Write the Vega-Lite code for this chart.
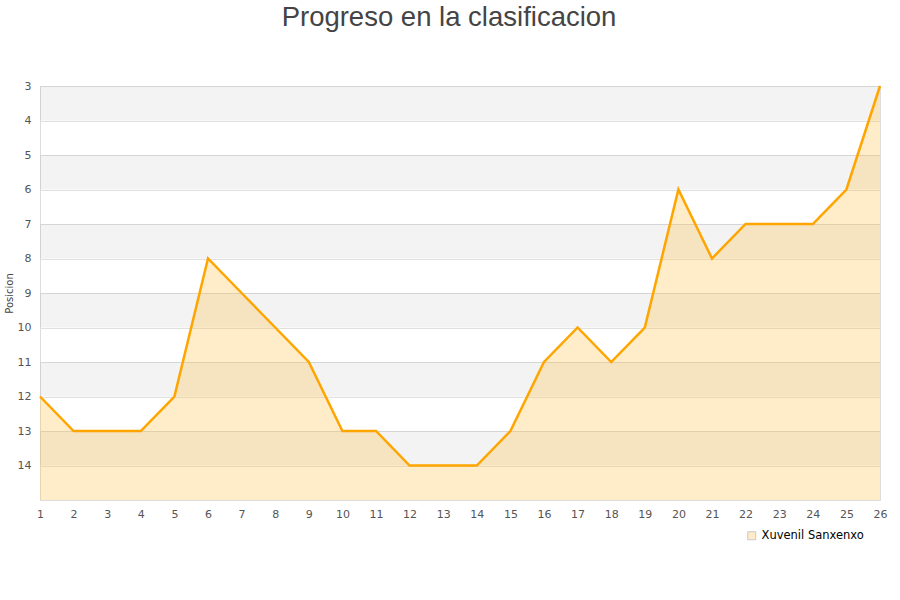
{
  "$schema": "https://vega.github.io/schema/vega-lite/v6.json",
  "autosize": "none",
  "width": 840,
  "height": 414,
  "padding": {"left": 40, "top": 86, "right": 20, "bottom": 100},
  "background": "white",
  "title": {
    "text": "Progreso en la clasificacion",
    "font": "Liberation Sans",
    "fontSize": 27.5,
    "fontWeight": "normal",
    "color": "#444444",
    "anchor": "middle",
    "offset": 56,
    "dy": 7,
    "dx": -11
  },
  "config": {
    "view": {"stroke": "#dddddd"},
    "axis": {
      "labelFont": "DejaVu Sans",
      "labelFontSize": 11,
      "labelColor": "#555555",
      "domain": false,
      "ticks": false,
      "labelOverlap": false,
      "labelFlush": false
    }
  },
  "datasets": {
    "bands": [
      {"b": 3, "e": 4},
      {"b": 5, "e": 6},
      {"b": 7, "e": 8},
      {"b": 9, "e": 10},
      {"b": 11, "e": 12},
      {"b": 13, "e": 14}
    ],
    "pos": [
      {"jornada": 1, "posicion": 12, "equipo": "Xuvenil Sanxenxo"},
      {"jornada": 2, "posicion": 13, "equipo": "Xuvenil Sanxenxo"},
      {"jornada": 3, "posicion": 13, "equipo": "Xuvenil Sanxenxo"},
      {"jornada": 4, "posicion": 13, "equipo": "Xuvenil Sanxenxo"},
      {"jornada": 5, "posicion": 12, "equipo": "Xuvenil Sanxenxo"},
      {"jornada": 6, "posicion": 8, "equipo": "Xuvenil Sanxenxo"},
      {"jornada": 7, "posicion": 9, "equipo": "Xuvenil Sanxenxo"},
      {"jornada": 8, "posicion": 10, "equipo": "Xuvenil Sanxenxo"},
      {"jornada": 9, "posicion": 11, "equipo": "Xuvenil Sanxenxo"},
      {"jornada": 10, "posicion": 13, "equipo": "Xuvenil Sanxenxo"},
      {"jornada": 11, "posicion": 13, "equipo": "Xuvenil Sanxenxo"},
      {"jornada": 12, "posicion": 14, "equipo": "Xuvenil Sanxenxo"},
      {"jornada": 13, "posicion": 14, "equipo": "Xuvenil Sanxenxo"},
      {"jornada": 14, "posicion": 14, "equipo": "Xuvenil Sanxenxo"},
      {"jornada": 15, "posicion": 13, "equipo": "Xuvenil Sanxenxo"},
      {"jornada": 16, "posicion": 11, "equipo": "Xuvenil Sanxenxo"},
      {"jornada": 17, "posicion": 10, "equipo": "Xuvenil Sanxenxo"},
      {"jornada": 18, "posicion": 11, "equipo": "Xuvenil Sanxenxo"},
      {"jornada": 19, "posicion": 10, "equipo": "Xuvenil Sanxenxo"},
      {"jornada": 20, "posicion": 6, "equipo": "Xuvenil Sanxenxo"},
      {"jornada": 21, "posicion": 8, "equipo": "Xuvenil Sanxenxo"},
      {"jornada": 22, "posicion": 7, "equipo": "Xuvenil Sanxenxo"},
      {"jornada": 23, "posicion": 7, "equipo": "Xuvenil Sanxenxo"},
      {"jornada": 24, "posicion": 7, "equipo": "Xuvenil Sanxenxo"},
      {"jornada": 25, "posicion": 6, "equipo": "Xuvenil Sanxenxo"},
      {"jornada": 26, "posicion": 3, "equipo": "Xuvenil Sanxenxo"}
    ]
  },
  "layer": [
    {
      "data": {"name": "bands"},
      "mark": {"type": "rect", "color": "#000000", "opacity": 0.047},
      "encoding": {
        "y": {
          "field": "b", "type": "quantitative",
          "scale": {"domain": [3, 15], "reverse": true, "nice": false},
          "axis": {"title": "Posicion", "titleFont": "DejaVu Sans", "titleFontSize": 10, "titleFontWeight": "normal", "titleColor": "#444444", "titlePadding": 3, "values": [3,4,5,6,7,8,9,10,11,12,13,14], "grid": true, "gridColor": "#e0e0e0", "labelPadding": 9}
        },
        "y2": {"field": "e"}
      }
    },
    {
      "data": {"name": "pos"},
      "mark": {"type": "area", "opacity": 0.3},
      "encoding": {
        "x": {
          "field": "jornada", "type": "quantitative",
          "scale": {"domain": [1, 26], "nice": false},
          "axis": {"title": null, "values": [1,2,3,4,5,6,7,8,9,10,11,12,13,14,15,16,17,18,19,20,21,22,23,24,25,26], "grid": false, "labelPadding": 8}
        },
        "y": {
          "field": "posicion", "type": "quantitative",
          "scale": {"domain": [3, 15], "reverse": true, "nice": false},
          "axis": {"title": "Posicion", "titleFont": "DejaVu Sans", "titleFontSize": 10, "titleFontWeight": "normal", "titleColor": "#444444", "titlePadding": 3, "values": [3,4,5,6,7,8,9,10,11,12,13,14], "grid": true, "gridColor": "#e0e0e0", "labelPadding": 9}
        },
        "y2": {"datum": 15},
        "color": {
          "field": "equipo", "type": "nominal",
          "scale": {"range": ["#ffc04d"]},
          "legend": {
            "title": null,
            "orient": "none",
            "legendX": 706,
            "legendY": 444,
            "symbolType": "square",
            "symbolSize": 64,
            "symbolStrokeColor": "#555555",
            "symbolStrokeWidth": 1,
            "labelFont": "DejaVu Sans",
            "labelFontSize": 11.5,
            "labelColor": "#000000"
          }
        }
      }
    },
    {
      "data": {"name": "pos"},
      "mark": {"type": "line", "color": "#ffa500", "strokeWidth": 2.5},
      "encoding": {
        "x": {
          "field": "jornada", "type": "quantitative",
          "scale": {"domain": [1, 26], "nice": false},
          "axis": {"title": null, "values": [1,2,3,4,5,6,7,8,9,10,11,12,13,14,15,16,17,18,19,20,21,22,23,24,25,26], "grid": false, "labelPadding": 8}
        },
        "y": {
          "field": "posicion", "type": "quantitative",
          "scale": {"domain": [3, 15], "reverse": true, "nice": false},
          "axis": {"title": "Posicion", "titleFont": "DejaVu Sans", "titleFontSize": 10, "titleFontWeight": "normal", "titleColor": "#444444", "titlePadding": 3, "values": [3,4,5,6,7,8,9,10,11,12,13,14], "grid": true, "gridColor": "#e0e0e0", "labelPadding": 9}
        }
      }
    }
  ]
}
